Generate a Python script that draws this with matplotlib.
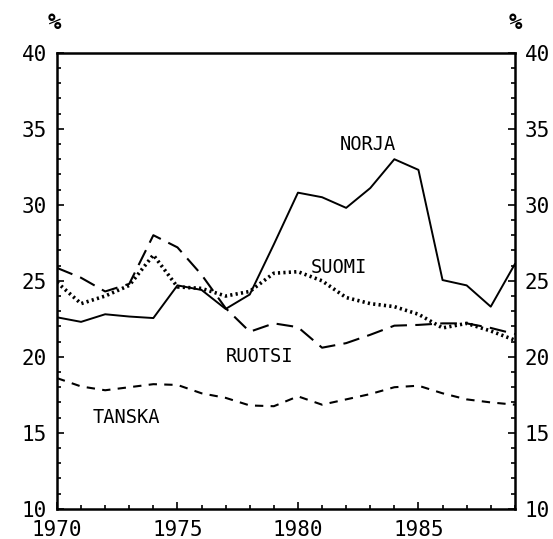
import numpy as np
import matplotlib
matplotlib.use("Agg")
import matplotlib.pyplot as plt
from matplotlib.ticker import MultipleLocator

plt.rcParams['font.family'] = ['DejaVu Sans Mono', 'DejaVu Sans']

# vuodet ja sarjat (%)
years = list(range(1970, 1990))
norja = [22.6, 22.3, 22.8, 22.65, 22.55, 24.7, 24.4, 23.15, 24.1, 27.4,
         30.8, 30.5, 29.8, 31.1, 33.0, 32.3, 25.05, 24.7, 23.3, 26.1]
suomi = [24.9, 23.5, 24.0, 24.7, 26.7, 24.6, 24.5, 24.0, 24.3, 25.5,
         25.6, 25.0, 23.9, 23.5, 23.3, 22.8, 21.9, 22.2, 21.7, 21.1]
ruotsi = [25.85, 25.2, 24.3, 24.8, 28.0, 27.2, 25.4, 23.2, 21.65, 22.2,
          21.95, 20.6, 20.9, 21.45, 22.05, 22.1, 22.2, 22.2, 21.9, 21.5]
tanska = [18.6, 18.05, 17.8, 18.0, 18.2, 18.15, 17.6, 17.3, 16.8, 16.75,
          17.4, 16.85, 17.2, 17.55, 18.0, 18.1, 17.6, 17.2, 17.0, 16.85]

labels = ["NORJA", "SUOMI", "RUOTSI", "TANSKA"]
label_pos = [(1982.9, 34.0), (1981.7, 25.85), (1978.4, 20.0), (1972.9, 16.0)]

fig = plt.figure(figsize=(5.53, 5.39), dpi=100)
ax = fig.add_axes([0.103, 0.056, 0.828, 0.846])

ax.plot(years, norja, color='black', lw=1.4, linestyle='-')
ax.plot(years, suomi, color='black', lw=2.6, linestyle=(0, (0.6, 0.9)))
ax.plot(years, ruotsi, color='black', lw=1.5, linestyle=(0, (8, 4)))
ax.plot(years, tanska, color='black', lw=1.5, linestyle=(0, (4, 3.5)))

for txt, (x, y) in zip(labels, label_pos):
    ax.text(x, y, txt, ha='center', va='center', fontsize=13.5)

ax.set_xlim(1970, 1989)
ax.set_ylim(10, 40)
ax.xaxis.set_major_locator(MultipleLocator(5))
ax.xaxis.set_minor_locator(MultipleLocator(1))
ax.yaxis.set_major_locator(MultipleLocator(5))
ax.yaxis.set_minor_locator(MultipleLocator(1))
ax.tick_params(axis='both', which='both', direction='in', labelsize=15,
               top=False, right=True, labelright=True)
ax.tick_params(axis='both', which='major', length=5, width=1.2)
ax.tick_params(axis='both', which='minor', length=3, width=1.2)
ax.tick_params(axis='x', which='both', pad=8)
ax.tick_params(axis='y', which='both', pad=7)
for s in ax.spines.values():
    s.set_linewidth(1.8)

fig.text(0.099, 0.958, '%', ha='center', va='center', fontsize=16, fontweight='bold')
fig.text(0.931, 0.958, '%', ha='center', va='center', fontsize=16, fontweight='bold')

fig.savefig('out.png', dpi=100)
